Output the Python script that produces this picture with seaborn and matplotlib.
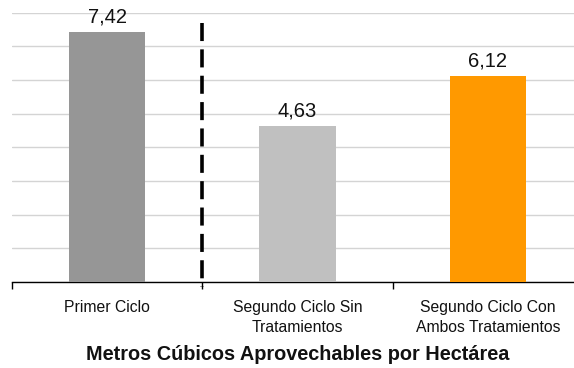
import matplotlib
matplotlib.use("Agg")
import matplotlib.pyplot as plt
import seaborn as sns
import pandas as pd

categories = ["Primer Ciclo", "Segundo Ciclo Sin\nTratamientos", "Segundo Ciclo Con\nAmbos Tratamientos"]
values = [7.42, 4.63, 6.12]
colors = ["#969696", "#c0c0c0", "#ff9900"]
title = "Metros Cúbicos Aprovechables por Hectárea"

sns.set_theme(style="white")
plt.rcParams["font.family"] = ["Liberation Sans", "DejaVu Sans"]

df = pd.DataFrame({"ciclo": categories, "m3": values})

fig = plt.figure(figsize=(5.74, 3.68), dpi=100)
ax = fig.add_axes([12 / 574, 1 - 282 / 368, 571 / 574, (282 - 12.5) / 368])

sns.barplot(data=df, x="ciclo", y="m3", hue="ciclo", palette=colors,
            width=0.4, saturation=1, legend=False, ax=ax, zorder=3,
            linewidth=0)

ax.set_ylim(0, 8)
ax.set_xlim(-0.5, 2.5)
ax.set_yticks(range(0, 9))
ax.yaxis.grid(True, color="#d4d4d4", linewidth=1)
ax.set_axisbelow(True)
ax.tick_params(axis="y", left=False, labelleft=False)

for s in ["top", "right", "left"]:
    ax.spines[s].set_visible(False)
ax.spines["bottom"].set_color("black")
ax.spines["bottom"].set_linewidth(1)

# category boundary ticks below the axis
ax.set_xticks([-0.5, 0.5, 1.5, 2.5], minor=False)
ax.set_xticklabels([])
ax.tick_params(axis="x", bottom=True, length=5, width=1, color="black")
ax.set_xlabel("")
ax.set_ylabel("")

for i, (lab, v) in enumerate(zip(categories, values)):
    ax.text(i, -0.52, lab, ha="center", va="top", fontsize=11.3, color="#111111",
            linespacing=1.45)
    ax.text(i, v + 0.28, f"{v:.2f}".replace(".", ","), ha="center", va="baseline",
            fontsize=14.5, color="#111111", zorder=4)

# dashed separator between first and second cycle
ax.plot([0.5, 0.5], [7.69, -0.15], color="black", linewidth=2.6,
        linestyle=(0, (5.0, 2.3)), clip_on=False, zorder=5,
        solid_capstyle="butt", dash_capstyle="butt")

fig.text(298 / 574, 1 - 355 / 368, title, ha="center", va="center",
         fontsize=14.3, fontweight="bold", color="#111111")

fig.savefig("out.png", dpi=100)
